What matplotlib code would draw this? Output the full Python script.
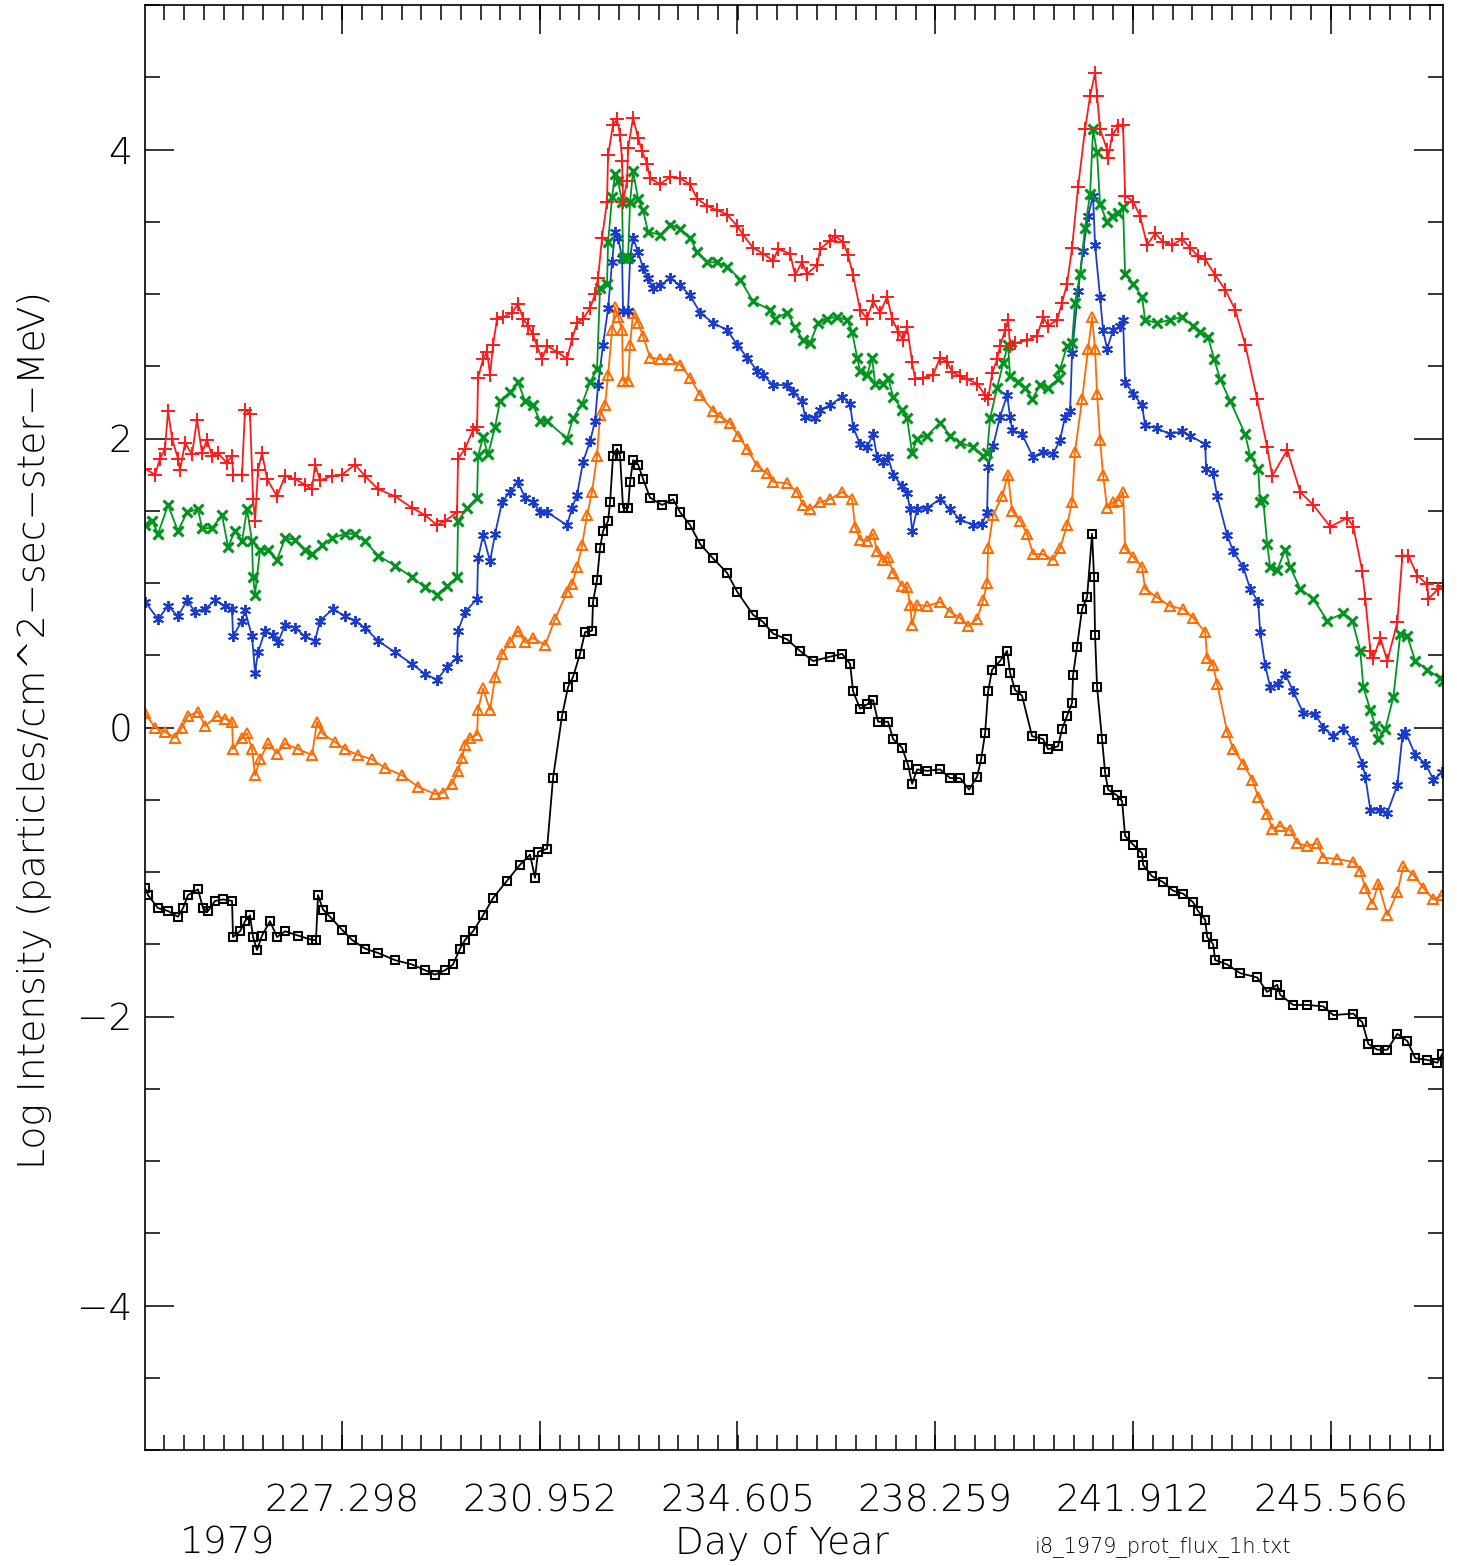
import numpy as np
import matplotlib
matplotlib.use('Agg')
import matplotlib.pyplot as plt
from matplotlib.ticker import FixedLocator, MultipleLocator

# (day of year, log intensity), one list per channel
RED = [
    (223.654, 1.79), (223.839, 1.75), (223.932, 1.86), (224.024, 1.93), (224.080, 2.19), (224.154, 2.00),
    (224.264, 1.86), (224.301, 1.78), (224.394, 1.97), (224.523, 1.89), (224.615, 2.13), (224.708, 1.90),
    (224.800, 1.99), (224.893, 1.88), (225.004, 1.90), (225.170, 1.83), (225.263, 1.88), (225.281, 1.75),
    (225.447, 1.75), (225.503, 2.20), (225.595, 2.17), (225.651, 1.58), (225.688, 1.43), (225.743, 1.78),
    (225.817, 1.90), (225.910, 1.72), (226.094, 1.60), (226.242, 1.74), (226.427, 1.72), (226.612, 1.68),
    (226.742, 1.65), (226.797, 1.82), (226.889, 1.71), (227.111, 1.74), (227.296, 1.75), (227.536, 1.82),
    (227.721, 1.74), (227.961, 1.65), (228.275, 1.60), (228.590, 1.52), (228.830, 1.47), (229.052, 1.40),
    (229.200, 1.43), (229.422, 1.49), (229.440, 1.86), (229.570, 1.93), (229.718, 2.06), (229.792, 2.08),
    (229.810, 2.42), (229.903, 2.55), (229.977, 2.60), (230.032, 2.44), (230.088, 2.65), (230.162, 2.83),
    (230.272, 2.84), (230.438, 2.87), (230.549, 2.93), (230.641, 2.83), (230.734, 2.78), (230.826, 2.72),
    (230.900, 2.64), (230.993, 2.55), (231.085, 2.64), (231.270, 2.60), (231.455, 2.55), (231.547, 2.69),
    (231.640, 2.80), (231.751, 2.83), (231.880, 2.90), (231.972, 3.00), (232.028, 3.11), (232.102, 3.39),
    (232.194, 3.64), (232.213, 3.96), (232.305, 4.17), (232.379, 4.21), (232.435, 4.10), (232.472, 3.92),
    (232.490, 3.64), (232.564, 3.78), (232.583, 4.01), (232.675, 4.22), (232.768, 4.08), (232.842, 3.99),
    (232.934, 3.90), (232.989, 3.80), (233.174, 3.76), (233.359, 3.81), (233.544, 3.80), (233.729, 3.76),
    (233.858, 3.66), (234.043, 3.61), (234.228, 3.58), (234.413, 3.55), (234.598, 3.47), (234.708, 3.41),
    (234.893, 3.32), (235.078, 3.28), (235.263, 3.23), (235.355, 3.31), (235.577, 3.28), (235.669, 3.13),
    (235.798, 3.22), (235.891, 3.14), (236.076, 3.20), (236.131, 3.31), (236.317, 3.37), (236.409, 3.40),
    (236.557, 3.36), (236.649, 3.27), (236.742, 3.13), (236.871, 2.89), (237.000, 2.83), (237.111, 2.95),
    (237.240, 2.87), (237.370, 2.98), (237.462, 2.83), (237.573, 2.74), (237.666, 2.68), (237.740, 2.77),
    (237.832, 2.53), (237.888, 2.41), (238.036, 2.42), (238.221, 2.44), (238.350, 2.56), (238.479, 2.53),
    (238.572, 2.46), (238.720, 2.43), (238.849, 2.41), (239.034, 2.38), (239.182, 2.30), (239.237, 2.27),
    (239.311, 2.45), (239.404, 2.55), (239.458, 2.64), (239.551, 2.75), (239.606, 2.82), (239.643, 2.64),
    (239.735, 2.66), (239.957, 2.68), (240.142, 2.71), (240.253, 2.84), (240.345, 2.78), (240.512, 2.82),
    (240.604, 2.94), (240.696, 3.07), (240.789, 3.32), (240.900, 3.74), (241.029, 4.14), (241.122, 4.37),
    (241.214, 4.53), (241.251, 4.37), (241.306, 4.14), (241.436, 4.00), (241.455, 3.94), (241.529, 4.10),
    (241.640, 4.16), (241.732, 4.17), (241.769, 3.68), (241.917, 3.64), (242.046, 3.54), (242.176, 3.34),
    (242.324, 3.42), (242.472, 3.36), (242.638, 3.34), (242.823, 3.38), (242.971, 3.32), (243.119, 3.26),
    (243.249, 3.24), (243.434, 3.13), (243.619, 3.03), (243.804, 2.89), (243.989, 2.65), (244.211, 2.27),
    (244.395, 1.94), (244.488, 1.74), (244.766, 1.92), (245.006, 1.63), (245.247, 1.54), (245.561, 1.39),
    (245.876, 1.45), (245.987, 1.39), (246.154, 1.08), (246.209, 0.89), (246.302, 0.53), (246.357, 0.48),
    (246.487, 0.62), (246.616, 0.46), (246.801, 0.73), (246.894, 1.19), (247.005, 1.19), (247.171, 1.05),
    (247.356, 0.99), (247.374, 0.89), (247.559, 0.96), (247.640, 0.98),
]

GREEN = [
    (223.654, 1.40), (223.784, 1.43), (223.895, 1.34), (224.080, 1.54), (224.264, 1.36), (224.431, 1.49),
    (224.634, 1.51), (224.708, 1.38), (224.893, 1.38), (225.078, 1.47), (225.189, 1.25), (225.318, 1.36),
    (225.447, 1.29), (225.540, 1.51), (225.632, 1.29), (225.651, 1.04), (225.688, 0.92), (225.780, 1.23),
    (225.928, 1.23), (226.094, 1.16), (226.242, 1.31), (226.427, 1.30), (226.612, 1.23), (226.742, 1.20),
    (226.926, 1.26), (227.111, 1.31), (227.351, 1.34), (227.536, 1.34), (227.721, 1.29), (227.961, 1.19),
    (228.275, 1.12), (228.590, 1.04), (228.830, 0.97), (229.052, 0.92), (229.237, 0.98), (229.422, 1.04),
    (229.440, 1.43), (229.607, 1.52), (229.792, 1.59), (229.810, 1.88), (229.903, 2.01), (229.995, 1.89),
    (230.125, 2.08), (230.216, 2.26), (230.401, 2.32), (230.549, 2.39), (230.678, 2.26), (230.826, 2.23),
    (230.956, 2.12), (231.085, 2.12), (231.455, 2.00), (231.566, 2.14), (231.732, 2.24), (231.880, 2.39),
    (232.009, 2.48), (232.064, 3.04), (232.194, 3.07), (232.213, 3.36), (232.287, 3.67), (232.342, 3.83),
    (232.398, 3.78), (232.472, 3.64), (232.490, 3.25), (232.583, 3.25), (232.620, 3.64), (232.675, 3.85),
    (232.768, 3.66), (232.860, 3.58), (232.952, 3.43), (233.174, 3.41), (233.359, 3.48), (233.544, 3.45),
    (233.729, 3.39), (233.858, 3.29), (234.043, 3.22), (234.228, 3.22), (234.413, 3.19), (234.653, 3.10),
    (234.893, 2.95), (235.207, 2.89), (235.300, 2.83), (235.522, 2.87), (235.669, 2.77), (235.817, 2.68),
    (235.946, 2.66), (236.094, 2.80), (236.261, 2.83), (236.446, 2.84), (236.631, 2.82), (236.723, 2.74),
    (236.816, 2.56), (236.871, 2.47), (237.000, 2.44), (237.093, 2.56), (237.148, 2.38), (237.296, 2.38),
    (237.388, 2.42), (237.481, 2.29), (237.647, 2.20), (237.740, 2.14), (237.832, 1.90), (237.925, 2.00),
    (238.110, 2.02), (238.350, 2.11), (238.535, 2.02), (238.720, 1.97), (238.960, 1.94), (239.145, 1.88),
    (239.219, 1.90), (239.274, 2.14), (239.404, 2.35), (239.514, 2.52), (239.606, 2.65), (239.643, 2.43),
    (239.791, 2.39), (239.920, 2.35), (240.049, 2.27), (240.198, 2.37), (240.345, 2.35), (240.530, 2.41),
    (240.567, 2.48), (240.696, 2.64), (240.789, 2.66), (240.844, 2.94), (240.937, 3.14), (241.029, 3.46),
    (241.122, 3.69), (241.177, 4.14), (241.251, 3.98), (241.306, 3.62), (241.436, 3.50), (241.529, 3.54),
    (241.640, 3.56), (241.732, 3.60), (241.769, 3.14), (241.917, 3.07), (242.083, 2.98), (242.139, 2.82),
    (242.361, 2.80), (242.601, 2.82), (242.823, 2.84), (243.027, 2.78), (243.156, 2.74), (243.304, 2.70),
    (243.415, 2.55), (243.526, 2.41), (243.711, 2.26), (243.989, 2.03), (244.081, 1.88), (244.229, 1.79),
    (244.266, 1.56), (244.321, 1.58), (244.395, 1.27), (244.451, 1.11), (244.580, 1.09), (244.729, 1.23),
    (244.821, 1.11), (245.006, 0.96), (245.247, 0.89), (245.506, 0.74), (245.802, 0.79), (245.968, 0.74),
    (246.117, 0.53), (246.172, 0.28), (246.302, 0.12), (246.394, 0.01), (246.450, -0.08), (246.579, -0.01),
    (246.727, 0.21), (246.857, 0.65), (246.986, 0.63), (247.134, 0.46), (247.356, 0.40), (247.596, 0.34),
    (247.640, 0.32),
]

BLUE = [
    (223.654, 0.87), (223.895, 0.75), (224.080, 0.84), (224.264, 0.77), (224.431, 0.88), (224.579, 0.80),
    (224.763, 0.82), (224.948, 0.88), (225.133, 0.84), (225.263, 0.82), (225.281, 0.63), (225.447, 0.74),
    (225.503, 0.81), (225.632, 0.63), (225.688, 0.38), (225.743, 0.52), (225.873, 0.67), (226.020, 0.64),
    (226.113, 0.59), (226.242, 0.71), (226.427, 0.69), (226.612, 0.63), (226.797, 0.60), (226.889, 0.74),
    (227.129, 0.82), (227.351, 0.77), (227.536, 0.74), (227.721, 0.69), (227.961, 0.60), (228.275, 0.52),
    (228.590, 0.44), (228.830, 0.37), (229.052, 0.33), (229.237, 0.42), (229.422, 0.48), (229.440, 0.67),
    (229.570, 0.80), (229.792, 0.89), (229.810, 1.17), (229.903, 1.33), (230.032, 1.15), (230.125, 1.34),
    (230.253, 1.56), (230.401, 1.63), (230.549, 1.70), (230.678, 1.59), (230.826, 1.56), (230.956, 1.49),
    (231.085, 1.49), (231.455, 1.40), (231.547, 1.52), (231.640, 1.61), (231.751, 1.84), (231.880, 1.98),
    (231.972, 2.12), (232.028, 2.37), (232.120, 2.65), (232.213, 2.90), (232.287, 3.22), (232.342, 3.43),
    (232.398, 3.39), (232.472, 3.25), (232.490, 2.88), (232.583, 2.88), (232.620, 3.25), (232.675, 3.39),
    (232.768, 3.29), (232.860, 3.18), (232.952, 3.11), (233.045, 3.04), (233.174, 3.06), (233.359, 3.11),
    (233.544, 3.06), (233.729, 2.99), (233.914, 2.87), (234.154, 2.80), (234.413, 2.75), (234.598, 2.65),
    (234.782, 2.56), (234.967, 2.47), (235.078, 2.44), (235.263, 2.37), (235.522, 2.37), (235.632, 2.32),
    (235.798, 2.26), (235.854, 2.15), (236.039, 2.14), (236.131, 2.20), (236.317, 2.23), (236.539, 2.29),
    (236.686, 2.24), (236.742, 2.08), (236.871, 1.96), (237.000, 1.94), (237.111, 2.03), (237.185, 1.87),
    (237.296, 1.84), (237.388, 1.87), (237.481, 1.75), (237.647, 1.67), (237.740, 1.62), (237.795, 1.51),
    (237.832, 1.36), (237.925, 1.51), (238.110, 1.52), (238.350, 1.58), (238.535, 1.51), (238.720, 1.44),
    (238.960, 1.40), (239.126, 1.41), (239.219, 1.49), (239.237, 1.80), (239.330, 1.95), (239.458, 2.15),
    (239.588, 2.30), (239.643, 2.15), (239.680, 2.06), (239.865, 2.03), (240.068, 1.87), (240.253, 1.91),
    (240.438, 1.89), (240.567, 1.99), (240.659, 2.15), (240.752, 2.19), (240.789, 2.59), (240.900, 3.02),
    (240.992, 3.30), (241.085, 3.54), (241.177, 3.68), (241.214, 3.34), (241.306, 2.98), (241.362, 2.75),
    (241.436, 2.62), (241.547, 2.75), (241.677, 2.78), (241.732, 2.82), (241.769, 2.39), (241.917, 2.31),
    (242.083, 2.23), (242.139, 2.09), (242.361, 2.07), (242.601, 2.03), (242.823, 2.05), (242.971, 2.02),
    (243.249, 1.96), (243.267, 1.79), (243.397, 1.76), (243.471, 1.60), (243.656, 1.33), (243.767, 1.22),
    (243.952, 1.11), (244.081, 0.96), (244.229, 0.87), (244.266, 0.66), (244.358, 0.43), (244.451, 0.28),
    (244.599, 0.30), (244.729, 0.37), (244.877, 0.25), (245.062, 0.10), (245.284, 0.09), (245.432, 0.00),
    (245.617, -0.06), (245.802, -0.01), (245.987, -0.09), (246.154, -0.25), (246.209, -0.34), (246.302, -0.57),
    (246.487, -0.57), (246.616, -0.59), (246.801, -0.40), (246.894, -0.06), (246.949, -0.03), (247.134, -0.19),
    (247.319, -0.25), (247.467, -0.36), (247.633, -0.31),
]

ORANGE = [
    (223.654, 0.10), (223.839, 0.00), (224.024, -0.03), (224.209, -0.07), (224.338, 0.00), (224.449, 0.08),
    (224.634, 0.11), (224.763, 0.01), (224.985, 0.08), (225.133, 0.06), (225.263, 0.04), (225.281, -0.15),
    (225.447, -0.07), (225.540, -0.04), (225.632, -0.15), (225.688, -0.33), (225.780, -0.22), (225.928, -0.11),
    (226.094, -0.18), (226.242, -0.11), (226.483, -0.15), (226.742, -0.19), (226.834, 0.04), (226.926, -0.04),
    (227.166, -0.10), (227.351, -0.15), (227.591, -0.19), (227.850, -0.22), (228.090, -0.28), (228.405, -0.33),
    (228.701, -0.41), (229.015, -0.46), (229.163, -0.45), (229.329, -0.39), (229.440, -0.30), (229.514, -0.21),
    (229.570, -0.12), (229.662, -0.07), (229.792, -0.05), (229.810, 0.12), (229.903, 0.27), (230.032, 0.12),
    (230.125, 0.35), (230.253, 0.51), (230.401, 0.59), (230.549, 0.67), (230.678, 0.59), (230.826, 0.62),
    (231.048, 0.57), (231.233, 0.75), (231.455, 0.94), (231.547, 0.99), (231.640, 1.11), (231.732, 1.26),
    (231.825, 1.47), (231.917, 1.63), (232.009, 1.88), (232.064, 2.16), (232.157, 2.23), (232.213, 2.44),
    (232.287, 2.75), (232.342, 2.91), (232.398, 2.84), (232.472, 2.75), (232.490, 2.40), (232.583, 2.40),
    (232.620, 2.65), (232.675, 2.87), (232.768, 2.80), (232.860, 2.71), (232.989, 2.56), (233.174, 2.55),
    (233.359, 2.55), (233.544, 2.51), (233.729, 2.42), (233.914, 2.30), (234.154, 2.19), (234.283, 2.15),
    (234.468, 2.11), (234.616, 2.02), (234.782, 1.93), (234.967, 1.81), (235.152, 1.76), (235.263, 1.70),
    (235.522, 1.69), (235.706, 1.63), (235.817, 1.54), (235.946, 1.51), (236.131, 1.56), (236.317, 1.58),
    (236.539, 1.63), (236.723, 1.58), (236.779, 1.39), (236.871, 1.30), (237.000, 1.29), (237.111, 1.34),
    (237.185, 1.22), (237.296, 1.16), (237.388, 1.18), (237.481, 1.07), (237.647, 0.98), (237.740, 0.97),
    (237.795, 0.85), (237.832, 0.71), (237.925, 0.85), (238.110, 0.84), (238.350, 0.87), (238.535, 0.80),
    (238.720, 0.76), (238.867, 0.70), (239.034, 0.75), (239.145, 0.88), (239.219, 1.00), (239.237, 1.24),
    (239.330, 1.47), (239.495, 1.60), (239.606, 1.75), (239.680, 1.50), (239.828, 1.43), (239.957, 1.34),
    (240.068, 1.20), (240.253, 1.20), (240.438, 1.16), (240.567, 1.24), (240.696, 1.40), (240.789, 1.56),
    (240.844, 1.91), (240.974, 2.27), (241.085, 2.62), (241.159, 2.84), (241.214, 2.62), (241.251, 2.31),
    (241.306, 1.99), (241.362, 1.75), (241.436, 1.52), (241.547, 1.56), (241.640, 1.57), (241.732, 1.63),
    (241.769, 1.24), (241.917, 1.18), (242.083, 1.11), (242.139, 0.96), (242.361, 0.90), (242.601, 0.84),
    (242.842, 0.82), (243.027, 0.76), (243.249, 0.66), (243.286, 0.48), (243.397, 0.43), (243.471, 0.30),
    (243.656, -0.03), (243.767, -0.15), (243.952, -0.25), (244.118, -0.36), (244.229, -0.48), (244.395, -0.60),
    (244.488, -0.70), (244.636, -0.68), (244.821, -0.71), (244.951, -0.80), (245.136, -0.82), (245.321, -0.80),
    (245.432, -0.90), (245.691, -0.91), (245.987, -0.93), (246.117, -0.99), (246.209, -1.11), (246.339, -1.22),
    (246.450, -1.08), (246.616, -1.30), (246.801, -1.14), (246.912, -0.96), (247.097, -1.02), (247.282, -1.11),
    (247.467, -1.19), (247.633, -1.16),
]

BLACK = [
    (223.654, -1.11), (223.710, -1.16), (223.895, -1.25), (224.080, -1.27), (224.264, -1.31), (224.357, -1.25),
    (224.449, -1.16), (224.634, -1.12), (224.726, -1.25), (224.819, -1.27), (224.948, -1.20), (225.096, -1.19),
    (225.263, -1.20), (225.281, -1.45), (225.410, -1.41), (225.503, -1.34), (225.595, -1.30), (225.651, -1.45),
    (225.725, -1.54), (225.817, -1.44), (225.965, -1.34), (226.094, -1.45), (226.242, -1.41), (226.483, -1.44),
    (226.742, -1.47), (226.815, -1.47), (226.852, -1.16), (226.945, -1.26), (227.074, -1.31), (227.296, -1.40),
    (227.480, -1.47), (227.721, -1.53), (227.961, -1.56), (228.275, -1.61), (228.590, -1.64), (228.830, -1.68),
    (229.015, -1.71), (229.200, -1.68), (229.348, -1.64), (229.477, -1.53), (229.570, -1.47), (229.718, -1.41),
    (229.903, -1.30), (230.088, -1.18), (230.346, -1.06), (230.586, -0.95), (230.771, -0.88), (230.863, -1.04),
    (230.919, -0.86), (231.085, -0.84), (231.196, -0.35), (231.362, 0.08), (231.473, 0.28), (231.566, 0.35),
    (231.695, 0.51), (231.788, 0.66), (231.917, 0.67), (231.935, 0.87), (232.009, 1.02), (232.064, 1.24),
    (232.120, 1.36), (232.213, 1.43), (232.250, 1.56), (232.305, 1.88), (232.379, 1.93), (232.435, 1.88),
    (232.490, 1.52), (232.583, 1.52), (232.620, 1.70), (232.675, 1.85), (232.768, 1.82), (232.860, 1.72),
    (232.989, 1.59), (233.211, 1.54), (233.414, 1.58), (233.544, 1.49), (233.729, 1.40), (233.914, 1.27),
    (234.154, 1.17), (234.413, 1.07), (234.598, 0.94), (234.893, 0.78), (235.078, 0.73), (235.263, 0.65),
    (235.522, 0.61), (235.761, 0.53), (236.002, 0.46), (236.317, 0.49), (236.539, 0.51), (236.686, 0.44),
    (236.742, 0.25), (236.871, 0.13), (237.000, 0.16), (237.111, 0.19), (237.203, 0.04), (237.388, 0.04),
    (237.481, -0.08), (237.647, -0.14), (237.759, -0.26), (237.832, -0.39), (237.925, -0.29), (238.110, -0.30),
    (238.350, -0.29), (238.535, -0.35), (238.720, -0.35), (238.886, -0.43), (239.034, -0.34), (239.108, -0.22),
    (239.182, -0.04), (239.237, 0.25), (239.311, 0.40), (239.458, 0.46), (239.588, 0.53), (239.643, 0.38),
    (239.735, 0.26), (239.865, 0.22), (240.049, -0.06), (240.253, -0.08), (240.345, -0.15), (240.530, -0.13),
    (240.604, -0.01), (240.696, 0.08), (240.789, 0.17), (240.807, 0.36), (240.881, 0.56), (240.974, 0.82),
    (241.066, 0.90), (241.159, 1.34), (241.196, 1.04), (241.214, 0.64), (241.251, 0.28), (241.343, -0.08),
    (241.399, -0.31), (241.455, -0.43), (241.621, -0.47), (241.714, -0.51), (241.769, -0.75), (241.917, -0.81),
    (242.083, -0.87), (242.102, -0.95), (242.268, -1.03), (242.472, -1.07), (242.657, -1.13), (242.842, -1.15),
    (243.027, -1.21), (243.119, -1.27), (243.249, -1.33), (243.286, -1.45), (243.397, -1.50), (243.434, -1.61),
    (243.656, -1.64), (243.896, -1.70), (244.211, -1.73), (244.395, -1.83), (244.580, -1.78), (244.636, -1.85),
    (244.877, -1.92), (245.136, -1.92), (245.432, -1.93), (245.617, -1.99), (245.987, -1.98), (246.154, -2.04),
    (246.265, -2.19), (246.431, -2.23), (246.616, -2.23), (246.801, -2.12), (246.986, -2.17), (247.134, -2.29),
    (247.356, -2.30), (247.541, -2.32), (247.633, -2.26),
]

XTICKS = [227.298, 230.952, 234.605, 238.259, 241.912, 245.566]
XTICK_LABELS = ['227.298', '230.952', '234.605', '238.259', '241.912', '245.566']
YTICKS = [-4, -2, 0, 2, 4]
X0, X1 = 223.645, 247.645

plt.rcParams['font.family'] = ['DejaVu Sans']
plt.rcParams['font.weight'] = 'light'

fig = plt.figure(figsize=(14.57, 15.66), dpi=100)
ax = fig.add_axes([144.5 / 1457, 1 - 1450 / 1566, (1443 - 144.5) / 1457, 1445 / 1566])

series = [
    (BLACK, '#000000', dict(marker='s', markersize=5.5, markerfacecolor='none', markeredgewidth=1.5)),
    (ORANGE, '#ff6a00', dict(marker='^', markersize=6.5, markerfacecolor='none', markeredgewidth=1.4)),
    (BLUE, '#1a3ccc', dict(marker=(6, 2, 0), markersize=8, markeredgewidth=1.4)),
    (GREEN, '#00951e', dict(marker='x', markersize=6.5, markeredgewidth=2.2)),
    (RED, '#ff1a1a', dict(marker='+', markersize=10, markeredgewidth=1.4)),
]
for pts, color, mk in series:
    d = np.array([p[0] for p in pts])
    v = np.array([p[1] for p in pts])
    ax.plot(d, v, color=color, lw=1.3, markeredgecolor=color, **mk)

ax.set_xlim(X0, X1)
ax.set_ylim(-5, 5)

step = XTICKS[1] - XTICKS[0]
minor_x = [X0 + step / 10 * k for k in range(1, 66)]
ax.xaxis.set_major_locator(FixedLocator(XTICKS))
ax.xaxis.set_minor_locator(FixedLocator(minor_x))
ax.set_xticklabels(XTICK_LABELS)
ax.yaxis.set_major_locator(FixedLocator(YTICKS))
ax.yaxis.set_minor_locator(MultipleLocator(0.5))

ax.tick_params(which='both', direction='in', top=True, right=True, width=1.1, colors='black')
ax.tick_params(which='major', length=21)
ax.tick_params(which='minor', length=10.5)
ax.tick_params(axis='x', which='major', labelsize=27, pad=24)
ax.tick_params(axis='y', which='major', labelsize=27, pad=9)
for s in ax.spines.values():
    s.set_linewidth(1.2)

fig.text(782 / 1457, 1 - 1554 / 1566, 'Day of Year', fontsize=27, ha='center', va='baseline')
fig.text(180 / 1457, 1 - 1554 / 1566, '1979', fontsize=27, ha='left', va='baseline')
fig.text(1035 / 1457, 1 - 1552 / 1566, 'i8_1979_prot_flux_1h.txt', fontsize=15, ha='left', va='baseline')
fig.text(35 / 1457, 1 - 730 / 1566, 'Log Intensity (particles/cm^2\u2212sec\u2212ster\u2212MeV)',
         fontsize=27, rotation=90, ha='center', va='center')

fig.savefig('out.png', dpi=100)
